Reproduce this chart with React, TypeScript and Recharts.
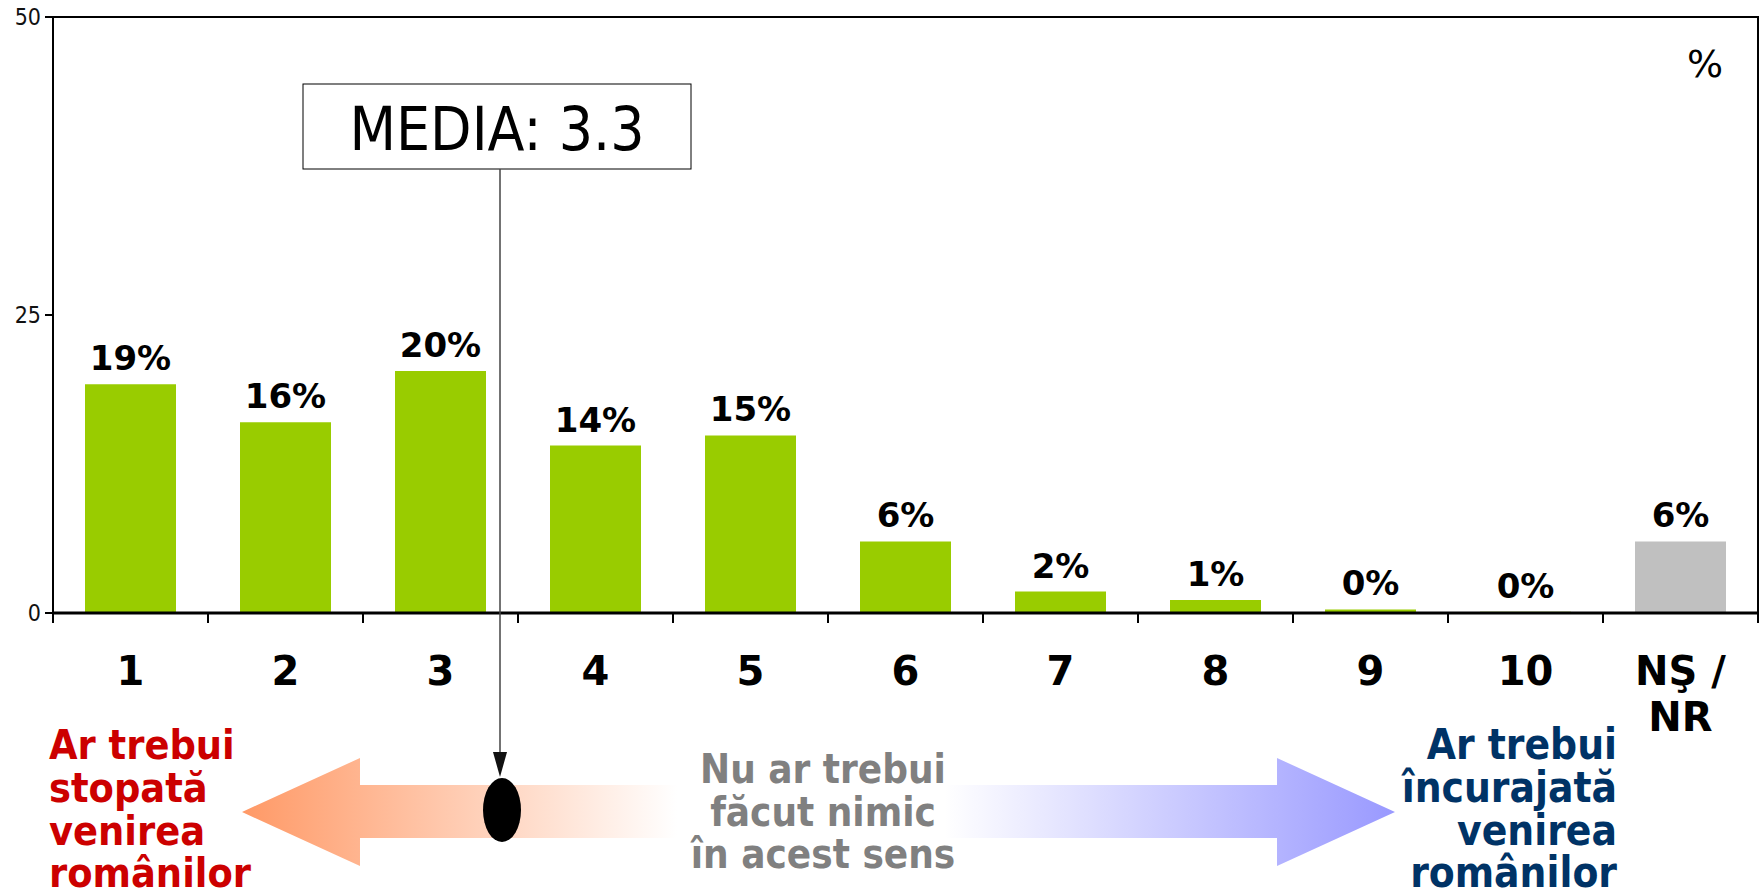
import { Bar, BarChart, Cell, LabelList, ReferenceArea, XAxis, YAxis } from "recharts";

const categories = ["1", "2", "3", "4", "5", "6", "7", "8", "9", "10", "NŞ / NR"];
const tickLines = [["1"], ["2"], ["3"], ["4"], ["5"], ["6"], ["7"], ["8"], ["9"], ["10"], ["NŞ /", "NR"]];
const values = [19.2, 16.0, 20.3, 14.05, 14.9, 6.0, 1.8, 1.1, 0.3, 0.1, 6.0];
const yTicks = [0, 25, 50];
const meanLabel = "MEDIA: 3.3";
const leftText = ["Ar trebui", "stopată", "venirea", "românilor"];
const middleText = ["Nu ar trebui", "făcut nimic", "în acest sens"];
const rightText = ["Ar trebui", "încurajată", "venirea", "românilor"];

const W = 1764;
const H = 896;
const M = { top: 17, right: 6, bottom: 163, left: 0 };
const Y_W = 53;
const HALF_BAND = (W - Y_W - M.right) / categories.length / 2;

const GREEN = "#99cc00";
const GREY = "#c0c0c0";
const BOLD = "'DejaVu Sans', Verdana, sans-serif";
const COND = "'DejaVu Sans Condensed', 'DejaVu Sans', sans-serif";
const SIDE_Y = [759, 802, 845, 887];

const data = categories.map((name, i) => ({ name, value: values[i] }));

function XTick(props: any) {
  const { x, y, payload, index } = props;
  const lines = tickLines[index] ?? [payload.value];
  const last = index === categories.length - 1;
  return (
    <g>
      <line x1={x - HALF_BAND} y1={y} x2={x - HALF_BAND} y2={y + 10} stroke="#000" strokeWidth={2} />
      {last && <line x1={x + HALF_BAND} y1={y} x2={x + HALF_BAND} y2={y + 10} stroke="#000" strokeWidth={2} />}
      {lines.map((l: string, i: number) => (
        <text key={l} x={x} y={y + 72 + i * 46} textAnchor="middle" fontFamily={BOLD} fontWeight="bold" fontSize={40} fill="#000">
          {l}
        </text>
      ))}
    </g>
  );
}

function Overlay() {
  return (
    <svg width={W} height={H} style={{ position: "absolute", left: 0, top: 0, pointerEvents: "none" }}>
      <defs>
        <linearGradient id="gl" gradientUnits="userSpaceOnUse" x1={242} y1={0} x2={677} y2={0}>
          <stop offset="0" stopColor="#ff9966" />
          <stop offset="1" stopColor="#ffffff" />
        </linearGradient>
        <linearGradient id="gr" gradientUnits="userSpaceOnUse" x1={945} y1={0} x2={1395} y2={0}>
          <stop offset="0" stopColor="#ffffff" />
          <stop offset="1" stopColor="#9999ff" />
        </linearGradient>
      </defs>
      <text x={1705} y={77} textAnchor="middle" fontFamily={BOLD} fontSize={38} fill="#000">%</text>

      <rect x={303} y={84} width={388} height={85} fill="#fff" stroke="#000" strokeWidth={1} />
      <text x={497} y={150} textAnchor="middle" fontFamily={COND} fontSize={60} fill="#000">{meanLabel}</text>
      <line x1={500} y1={169} x2={500} y2={755} stroke="#444" strokeWidth={1.5} />
      <polygon points="493,752 507,752 500,777" fill="#111" />

      <polygon points="242,812 360,758 360,785 677,785 677,838 360,838 360,866" fill="url(#gl)" />
      <polygon points="945,785 1277,785 1277,758 1395,812 1277,866 1277,838 945,838" fill="url(#gr)" />
      <ellipse cx={502} cy={810} rx={19} ry={32} fill="#000" />

      {leftText.map((t, i) => (
        <text key={t} x={49} y={SIDE_Y[i]} fontFamily={COND} fontWeight="bold" fontSize={41} fill="#cc0000">{t}</text>
      ))}
      {middleText.map((t, i) => (
        <text key={t} x={823} y={[783, 826, 868][i]} textAnchor="middle" fontFamily={COND} fontWeight="bold" fontSize={40} fill="#808080">{t}</text>
      ))}
      {rightText.map((t, i) => (
        <text key={t} x={1617} y={SIDE_Y[i]} textAnchor="end" fontFamily={COND} fontWeight="bold" fontSize={42} fill="#003366">{t}</text>
      ))}
    </svg>
  );
}

export default function App() {
  return (
    <div style={{ position: "absolute", left: 0, top: 0, width: W, height: H, background: "#fff" }}>
      <BarChart width={W} height={H} data={data} margin={M}>
        <ReferenceArea y1={0} y2={50} fill="none" stroke="#000" strokeWidth={2} />
        <XAxis
          dataKey="name"
          height={120}
          axisLine={{ stroke: "#000", strokeWidth: 3 }}
          tickLine={false}
          tickSize={0}
          tickMargin={0}
          interval={0}
          tick={<XTick />}
        />
        <YAxis
          width={Y_W}
          domain={[0, 50]}
          ticks={yTicks}
          axisLine={{ stroke: "#000", strokeWidth: 2 }}
          tickLine={{ stroke: "#000", strokeWidth: 2 }}
          tickSize={8}
          tickMargin={4}
          tick={{ fontFamily: COND, fontSize: 23, fill: "#111" }}
        />
        <Bar dataKey="value" barSize={91} isAnimationActive={false}>
          {data.map((d, i) => (
            <Cell key={d.name} fill={i === data.length - 1 ? GREY : GREEN} />
          ))}
          <LabelList
            dataKey="value"
            position="top"
            offset={14}
            formatter={(v: any) => `${Math.round(Number(v))}%`}
            style={{ fontFamily: BOLD, fontWeight: "bold", fontSize: 34, fill: "#000" }}
          />
        </Bar>
      </BarChart>
      <Overlay />
    </div>
  );
}
